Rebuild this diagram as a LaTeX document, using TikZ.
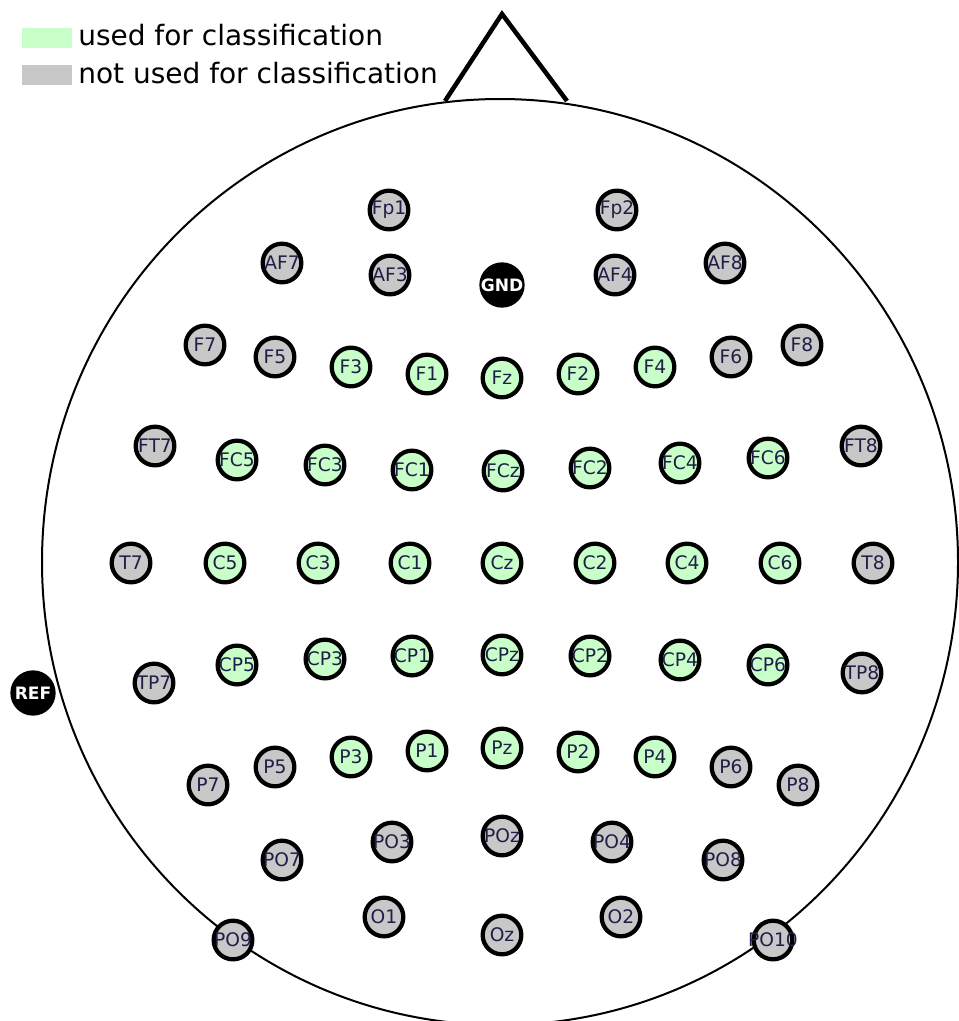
\documentclass[tikz,border=0pt]{standalone}
\usepackage{fontspec}
\setmainfont{DejaVu Sans}
\usetikzlibrary{positioning}
\definecolor{elgreen}{RGB}{200,255,200}
\definecolor{elgray} {RGB}{200,200,200}
\definecolor{eltext} {RGB}{30,30,70}
\tikzset{
  elec/.style={circle,draw=black,fill=elgray,line width=3.2pt,
               minimum size=29pt,inner sep=0pt,text=eltext,
               font=\fontsize{14}{16}\selectfont},
  elecgreen/.style={elec,fill=elgreen},
  elecblack/.style={circle,fill=black,minimum size=34pt,inner sep=0pt,
                    text=white,font=\fontsize{12.8}{14}\selectfont\bfseries},
  headline/.style={line width=1.5pt,draw=black},
  noseline/.style={line width=3.4pt,draw=black,miter limit=10},
  legbox/.style={minimum width=37.5pt,minimum height=15pt,inner sep=0pt},
  legtext/.style={anchor=base west,inner sep=0pt,
                  font=\fontsize{21}{25}\selectfont},
}
\begin{document}
\begin{tikzpicture}[x=0.75pt,y=-0.75pt]
  \useasboundingbox (0,0) rectangle (958,1021);
  % Head and nose
  \draw[headline] (500,562) ellipse [x radius=458,y radius=463];
  \coordinate (noseL)   at (445,101);
  \coordinate (noseTip) at (502,14);
  \coordinate (noseR)   at (567,101);
  \draw[noseline] (noseL) -- (noseTip) -- (noseR);

  % Legend
  \node[legbox,fill=elgreen] (legUsed)   at (47,38) {};
  \node[legbox,fill=elgray]  (legUnused) at (47,75) {};
  \node[legtext] (legUsedTxt)   at (78,45) {used for classification};
  \node[legtext] (legUnusedTxt) at (78,83) {not used for classification};

  % Reference and ground
  \node[elecblack] (GND) at (502,285) {GND};
  \node[elecblack] (REF) at (33,693)  {REF};

  % Fp / AF rows
  \node[elec] (Fp1) at (389,210) {Fp1};
  \node[elec] (Fp2) at (617,210) {Fp2};
  \node[elec] (AF7) at (282,263) {AF7};
  \node[elec] (AF3) at (390,275) {AF3};
  \node[elec] (AF4) at (615,275) {AF4};
  \node[elec] (AF8) at (725,263) {AF8};

  % F row
  \node[elec]      (F7) at (205,345) {F7};
  \node[elec]      (F5) at (275,357) {F5};
  \node[elecgreen] (F3) at (351,367) {F3};
  \node[elecgreen] (F1) at (427,374) {F1};
  \node[elecgreen] (Fz) at (502,378) {Fz};
  \node[elecgreen] (F2) at (578,374) {F2};
  \node[elecgreen] (F4) at (655,367) {F4};
  \node[elec]      (F6) at (731,357) {F6};
  \node[elec]      (F8) at (802,345) {F8};

  % FC row
  \node[elec]      (FT7) at (155,446) {FT7};
  \node[elecgreen] (FC5) at (237,460) {FC5};
  \node[elecgreen] (FC3) at (325,465) {FC3};
  \node[elecgreen] (FC1) at (412,470) {FC1};
  \node[elecgreen] (FCz) at (503,471) {FCz};
  \node[elecgreen] (FC2) at (590,468) {FC2};
  \node[elecgreen] (FC4) at (680,463) {FC4};
  \node[elecgreen] (FC6) at (768,458) {FC6};
  \node[elec]      (FT8) at (861,446) {FT8};

  % C row
  \node[elec]      (T7) at (131,563) {T7};
  \node[elecgreen] (C5) at (225,563) {C5};
  \node[elecgreen] (C3) at (318,563) {C3};
  \node[elecgreen] (C1) at (410,563) {C1};
  \node[elecgreen] (Cz) at (502,563) {Cz};
  \node[elecgreen] (C2) at (595,563) {C2};
  \node[elecgreen] (C4) at (687,563) {C4};
  \node[elecgreen] (C6) at (780,563) {C6};
  \node[elec]      (T8) at (873,563) {T8};

  % CP row
  \node[elec]      (TP7) at (154,683) {TP7};
  \node[elecgreen] (CP5) at (237,665) {CP5};
  \node[elecgreen] (CP3) at (325,659) {CP3};
  \node[elecgreen] (CP1) at (412,656) {CP1};
  \node[elecgreen] (CPz) at (502,655) {CPz};
  \node[elecgreen] (CP2) at (590,656) {CP2};
  \node[elecgreen] (CP4) at (680,660) {CP4};
  \node[elecgreen] (CP6) at (768,665) {CP6};
  \node[elec]      (TP8) at (862,673) {TP8};

  % P row
  \node[elec]      (P7) at (208,785) {P7};
  \node[elec]      (P5) at (275,767) {P5};
  \node[elecgreen] (P3) at (351,757) {P3};
  \node[elecgreen] (P1) at (427,751) {P1};
  \node[elecgreen] (Pz) at (502,748) {Pz};
  \node[elecgreen] (P2) at (578,752) {P2};
  \node[elecgreen] (P4) at (655,757) {P4};
  \node[elec]      (P6) at (731,767) {P6};
  \node[elec]      (P8) at (798,785) {P8};

  % PO / O rows
  \node[elec] (PO7)  at (282,860) {\makebox[0pt]{PO7}};
  \node[elec] (PO3)  at (392,842) {\makebox[0pt]{PO3}};
  \node[elec] (POz)  at (502,836) {POz};
  \node[elec] (PO4)  at (612,842) {\makebox[0pt]{PO4}};
  \node[elec] (PO8)  at (723,860) {\makebox[0pt]{PO8}};
  \node[elec] (O1)   at (384,917) {O1};
  \node[elec] (Oz)   at (502,935) {Oz};
  \node[elec] (O2)   at (621,917) {O2};
  \node[elec] (PO9)  at (233,940) {\makebox[0pt]{PO9}};
  \node[elec] (PO10) at (773,940) {\makebox[0pt]{PO10}};
\end{tikzpicture}
\end{document}
